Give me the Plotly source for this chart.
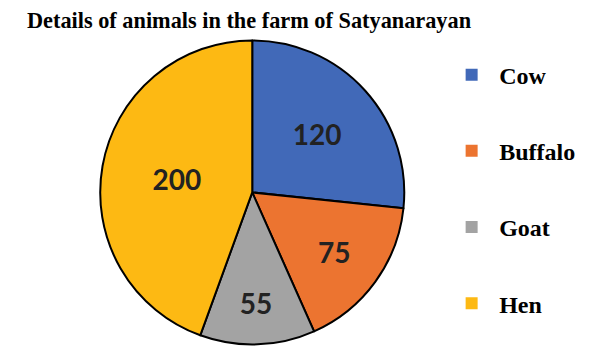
import plotly.graph_objects as go

# data
animals = ["Cow", "Buffalo", "Goat", "Hen"]
counts = [120, 75, 55, 200]
colors = ["#4169B8", "#EC7430", "#A3A3A3", "#FDB913"]

title_text = "Details of animals in the farm of Satyanarayan"

fig = go.Figure()

fig.add_trace(
    go.Pie(
        labels=animals,
        values=counts,
        text=[str(c) for c in counts],
        textinfo="text",
        textposition="inside",
        insidetextorientation="horizontal",
        textfont=dict(family="Lato", size=28, color="#222222", weight="bold"),
        marker=dict(colors=colors, line=dict(color="black", width=2)),
        sort=False,
        direction="clockwise",
        rotation=0,
        showlegend=False,
        hoverinfo="label+value",
        domain=dict(x=[0.155, 0.666], y=[0.032, 0.908]),
    )
)

# legend entries, one group each so they can be spaced out
for name, col in zip(animals, colors):
    fig.add_trace(
        go.Scatter(
            x=[None], y=[None],
            mode="markers",
            name=name,
            legendgroup=name,
            marker=dict(symbol="square", size=15, color=col),
        )
    )

fig.update_layout(
    width=595,
    height=348,
    margin=dict(l=0, r=0, t=0, b=0),
    paper_bgcolor="white",
    plot_bgcolor="white",
    xaxis=dict(visible=False),
    yaxis=dict(visible=False),
    title=dict(
        text="<b>" + title_text + "</b>",
        font=dict(family="Liberation Serif", size=22.3, color="black"),
        x=19 / 595, xanchor="left",
        y=0.966, yanchor="middle",
        pad=dict(l=0, r=0, t=0, b=0),
    ),
    legend=dict(
        x=0.733, y=0.872, xanchor="left", yanchor="top",
        font=dict(family="Liberation Serif", size=24, color="black", weight="bold"),
        tracegroupgap=42,
        itemwidth=45,
        itemsizing="constant",
        bgcolor="rgba(0,0,0,0)",
    ),
)

fig.write_html("out.html")
